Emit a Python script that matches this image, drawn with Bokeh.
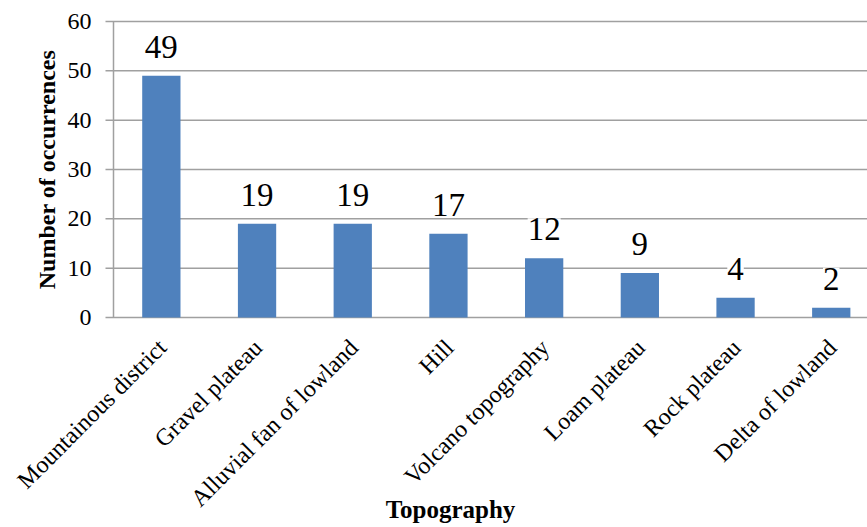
import math
from bokeh.plotting import figure
from bokeh.models import ColumnDataSource, Range1d, LabelSet, Label
from bokeh.embed import file_html
from bokeh.resources import INLINE

categories = ["Mountainous district", "Gravel plateau", "Alluvial fan of lowland", "Hill",
              "Volcano topography", "Loam plateau", "Rock plateau", "Delta of lowland"]
occurrences = [49, 19, 19, 17, 12, 9, 4, 2]
y_ticks = [0, 10, 20, 30, 40, 50, 60]
y_tick_labels = ["0", "10", "20", "30", "40", "50", "60"]
x_title = "Topography"
y_title = "Number of occurrences"

FONT = "Liberation Serif"
GRID = "#A0A0A0"
BAR = "#4F81BD"

# page geometry (pixels)
W, H = 867, 527
AX_LEFT, AX_TOP, AX_BOTTOM = 113, 21, 317
CAT_PX = 95.7
Y_MAX = 60
px_per_y = (AX_BOTTOM - AX_TOP) / Y_MAX
x_start = -0.5 - AX_LEFT / CAT_PX
x_end = -0.5 + (W - AX_LEFT) / CAT_PX
y_start = -(H - AX_BOTTOM) / px_per_y
y_end = Y_MAX + AX_TOP / px_per_y
TICK_PX = 8

n = len(categories)
xs = list(range(n))

p = figure(width=W, height=H, output_backend="svg", toolbar_location=None,
           x_range=Range1d(x_start, x_end), y_range=Range1d(y_start, y_end),
           x_axis_location=None, y_axis_location=None)
p.min_border = 0
p.outline_line_color = None
p.xgrid.visible = False
p.ygrid.visible = False
p.background_fill_color = "white"
p.border_fill_color = "white"

# gridlines (with outward tick stubs) and y axis line
grid_src = ColumnDataSource(dict(y=y_ticks, lbl=y_tick_labels))
p.segment(x0=-0.5 - TICK_PX / CAT_PX, x1=x_end, y0="y", y1="y", source=grid_src,
          line_color=GRID, line_width=1.5)
p.segment(x0=[-0.5], x1=[-0.5], y0=[min(y_ticks)], y1=[max(y_ticks)],
          line_color=GRID, line_width=1.5)

# bars
src = ColumnDataSource(dict(x=xs, y=occurrences, lbl=[str(v) for v in occurrences],
                            base=[0] * n, cat=categories))
p.vbar(x="x", top="y", width=0.4, bottom=0, source=src, fill_color=BAR, line_color=None)

# value labels
p.add_layout(LabelSet(x="x", y="y", text="lbl", source=src, text_align="center",
                      text_baseline="alphabetic", y_offset=18, text_font=FONT,
                      text_font_size="33px", text_color="black",
                      background_fill_color="white", background_fill_alpha=1.0))

# y tick labels
p.add_layout(LabelSet(x=-0.5, y="y", text="lbl", source=grid_src, x_offset=-(TICK_PX + 14),
                      text_align="right", text_baseline="middle", text_font=FONT,
                      text_font_size="24px", text_color="black"))

# category labels
p.add_layout(LabelSet(x="x", y="base", text="cat", source=src, y_offset=-26, x_offset=1,
                      angle=math.pi / 4, text_align="right", text_baseline="middle",
                      text_font=FONT, text_font_size="24px", text_color="black"))

# axis titles
p.add_layout(Label(x=-0.5, y=Y_MAX / 2, x_offset=-(AX_LEFT - 46), text=y_title,
                   angle=math.pi / 2, text_align="center", text_baseline="middle",
                   text_font=FONT, text_font_style="bold", text_font_size="24px",
                   text_color="black"))
p.add_layout(Label(x=-0.5, y=0, x_offset=450 - AX_LEFT, y_offset=-192, text=x_title,
                   text_align="center", text_baseline="alphabetic",
                   text_font=FONT, text_font_style="bold", text_font_size="25px",
                   text_color="black"))

open("out.html", "w").write(file_html(p, INLINE))
